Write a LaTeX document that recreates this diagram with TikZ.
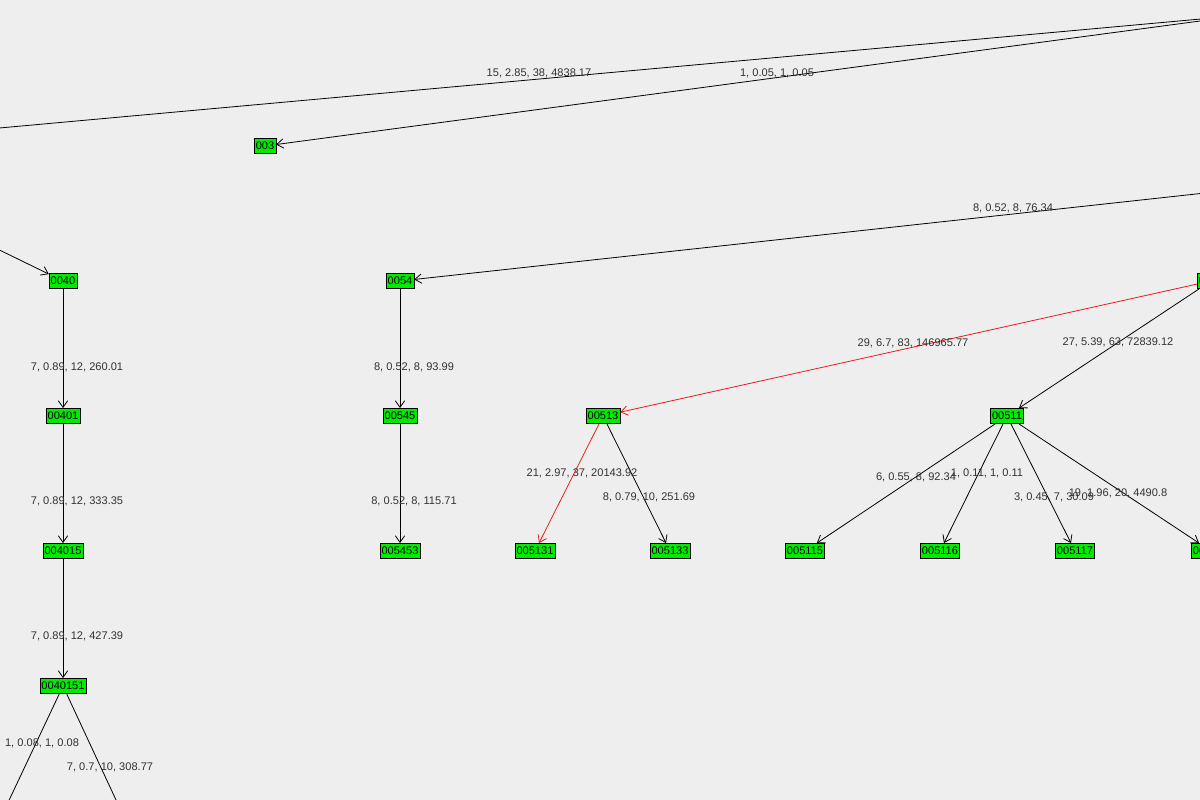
\documentclass[tikz,border=0pt]{standalone}
\usepackage{fontspec}
\setmainfont{Liberation Sans}
\usetikzlibrary{arrows.meta}
\definecolor{bgray}{RGB}{238,238,238}
\definecolor{leafgreen}{RGB}{0,235,0}
\definecolor{hotred}{RGB}{230,30,30}
\definecolor{labelgray}{RGB}{50,50,50}

\begin{document}
\begin{tikzpicture}[
    x=0.75pt, y=-0.75pt,
    treenode/.style={rectangle, draw=black, fill=leafgreen, inner sep=1.2pt, minimum height=11.5pt, font=\fontsize{8.3}{9}\selectfont},
    lbl/.style={font=\fontsize{8.3}{9}\selectfont, text=labelgray, inner sep=0pt},
    arrow/.style={-{Straight Barb[length=5pt, width=7pt]}, semithick},
    hot/.style={arrow, draw=hotred}
]
\fill[bgray] (0,0) rectangle (1200,800);
\useasboundingbox (0,0) rectangle (1200,800);
\clip (0,0) rectangle (1200,800);

% Top level
\node[treenode] (root) at (1245,15) {0};
\node[treenode] (n00) at (-100,137) {00};
\node[treenode] (n003) at (265,146) {003};
\node[treenode] (n004) at (-60,221) {004};
\node[treenode] (n005) at (1260,187) {005};

% Branch 004
\node[treenode] (n0040) at (63,281) {0040};
\node[treenode] (n00401) at (63,416) {00401};
\node[treenode] (n004015) at (63,551) {004015};
\node[treenode] (n0040151) at (63,686) {0040151};
\node[treenode] (n00401511) at (-5,830) {00401511};
\node[treenode] (n00401512) at (130,830) {00401512};

% Branch 005
\node[treenode] (n0054) at (400,281) {0054};
\node[treenode] (n00545) at (400,416) {00545};
\node[treenode] (n005453) at (400,551) {005453};
\node[treenode] (n0055) at (1211,281) {0055};
\node[treenode] (n00513) at (603,416) {00513};
\node[treenode] (n00511) at (1007,416) {00511};
\node[treenode] (n005131) at (535,551) {005131};
\node[treenode] (n005133) at (670,551) {005133};
\node[treenode] (n005115) at (805,551) {005115};
\node[treenode] (n005116) at (940,551) {005116};
\node[treenode] (n005117) at (1075,551) {005117};
\node[treenode] (n005118) at (1211,551) {005118};

% Edges
\draw[arrow] (root) -- (n00);
\draw[arrow] (root) -- (n003);
\draw[arrow] (n004) -- (n0040);
\draw[arrow] (n005) -- (n0054);
\draw[arrow] (n0040) -- (n00401);
\draw[arrow] (n00401) -- (n004015);
\draw[arrow] (n004015) -- (n0040151);
\draw[arrow] (n0040151) -- (n00401511);
\draw[arrow] (n0040151) -- (n00401512);
\draw[arrow] (n0054) -- (n00545);
\draw[arrow] (n00545) -- (n005453);
\draw[hot] (n0055) -- (n00513);
\draw[arrow] (n0055) -- (n00511);
\draw[hot] (n00513) -- (n005131);
\draw[arrow] (n00513) -- (n005133);
\draw[arrow] (n00511) -- (n005115);
\draw[arrow] (n00511) -- (n005116);
\draw[arrow] (n00511) -- (n005117);
\draw[arrow] (n00511) -- (n005118);

% Edge labels
\node[lbl] (l00) at (539,73) {15, 2.85, 38, 4838.17};
\node[lbl] (l003) at (777,73) {1, 0.05, 1, 0.05};
\node[lbl] (l0054) at (1013,208) {8, 0.52, 8, 76.34};
\node[lbl] (l00401) at (77,367) {7, 0.89, 12, 260.01};
\node[lbl] (l004015) at (77,501) {7, 0.89, 12, 333.35};
\node[lbl] (l0040151) at (77,636) {7, 0.89, 12, 427.39};
\node[lbl] (l00401511) at (42,743) {1, 0.08, 1, 0.08};
\node[lbl] (l00401512) at (110,767) {7, 0.7, 10, 308.77};
\node[lbl] (l00545) at (414,367) {8, 0.52, 8, 93.99};
\node[lbl] (l005453) at (414,501) {8, 0.52, 8, 115.71};
\node[lbl] (l00513) at (913,343) {29, 6.7, 83, 146965.77};
\node[lbl] (l00511) at (1118,342) {27, 5.39, 63, 72839.12};
\node[lbl] (l005131) at (582,473) {21, 2.97, 37, 20143.92};
\node[lbl] (l005133) at (649,497) {8, 0.79, 10, 251.69};
\node[lbl] (l005115) at (916,477) {6, 0.55, 8, 92.34};
\node[lbl] (l005116) at (987,473) {1, 0.11, 1, 0.11};
\node[lbl] (l005117) at (1054,497) {3, 0.45, 7, 30.09};
\node[lbl] (l005118) at (1118,493) {19, 1.96, 20, 4490.8};
\end{tikzpicture}
\end{document}
